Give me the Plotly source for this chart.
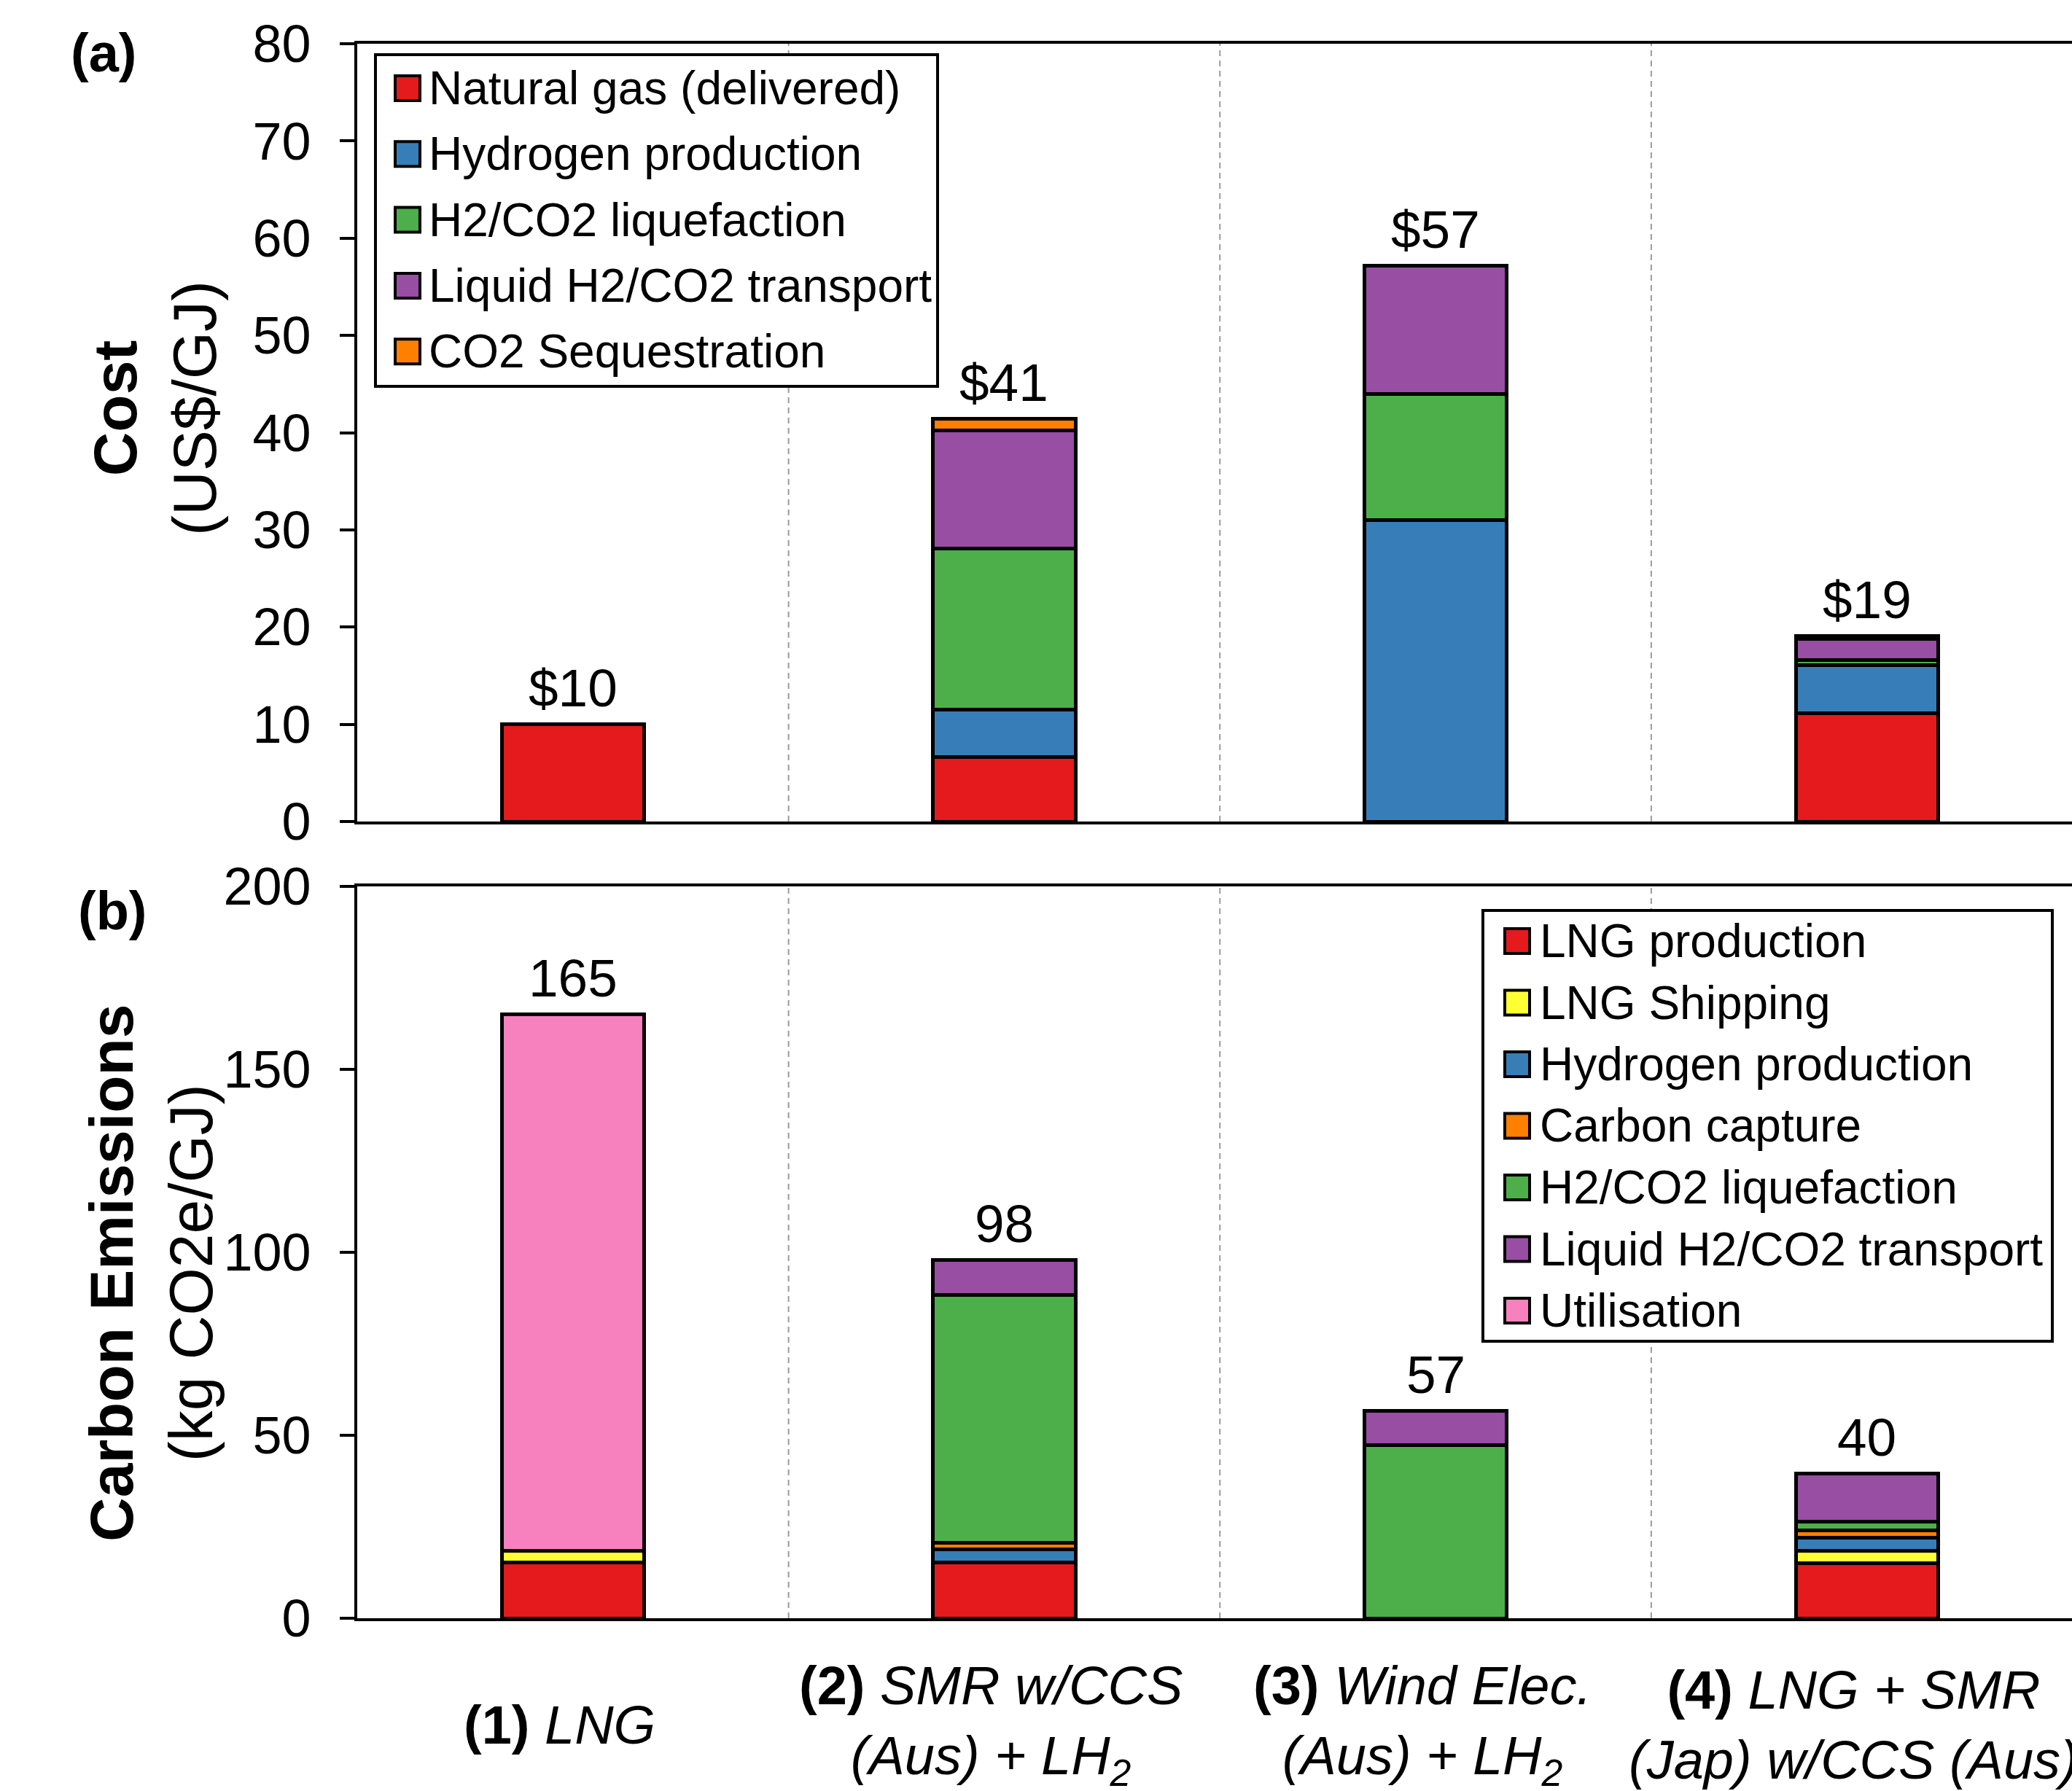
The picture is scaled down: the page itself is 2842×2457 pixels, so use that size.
import plotly.graph_objects as go

W, H = 2842, 2457
FONT = "Liberation Sans, Arial, sans-serif"

# ---------------- data ----------------
categories = ["(1) LNG", "(2) SMR w/CCS (Aus) + LH2",
              "(3) Wind Elec. (Aus) + LH2", "(4) LNG + SMR (Jap) w/CCS (Aus)"]
category_labels = [
    "<b>(1)</b> <i>LNG</i>",
    "<b>(2)</b> <i>SMR w/CCS</i><br><i>(Aus) + LH<sub>2</sub></i>",
    "<b>(3)</b> <i>Wind Elec.</i><br><i>(Aus) + LH<sub>2</sub></i>",
    "<b>(4)</b> <i>LNG + SMR</i><br><i>(Jap) w/CCS (Aus)</i>",
]

# Panel (a): cost, US$/GJ
cost_natural_gas = [10.0, 6.6, None, 11.1]
cost_h2_production = [None, 4.9, 31.0, 5.0]
cost_liquefaction = [None, 16.6, 13.0, 0.5]
cost_transport = [None, 12.1, 13.2, 2.2]
cost_sequestration = [None, 1.2, None, 0.3]
cost_names = ["Natural gas (delivered)", "Hydrogen production",
              "H2/CO2 liquefaction", "Liquid H2/CO2 transport", "CO2 Sequestration"]
cost_colors = ["#E41A1C", "#377EB8", "#4DAF4A", "#984EA3", "#FF7F00"]
cost_ticks = [0, 10, 20, 30, 40, 50, 60, 70, 80]

# Panel (b): carbon emissions, kg CO2e/GJ
em_lng_production = [15.2, 15.2, None, 15.1]
em_lng_shipping = [3.3, None, None, 3.4]
em_h2_production = [None, 3.6, None, 3.6]
em_carbon_capture = [None, 1.9, None, 1.9]
em_liquefaction = [None, 67.7, 47.3, 2.4]
em_transport = [None, 9.6, 9.4, 13.2]
em_utilisation = [146.5, None, None, None]
em_names = ["LNG production", "LNG Shipping", "Hydrogen production", "Carbon capture",
            "H2/CO2 liquefaction", "Liquid H2/CO2 transport", "Utilisation"]
em_colors = ["#E41A1C", "#FFFF33", "#377EB8", "#FF7F00", "#4DAF4A", "#984EA3", "#F781BF"]
em_ticks = [0, 50, 100, 150, 200]

cost_series = [cost_natural_gas, cost_h2_production, cost_liquefaction,
               cost_transport, cost_sequestration]
em_series = [em_lng_production, em_lng_shipping, em_h2_production, em_carbon_capture,
             em_liquefaction, em_transport, em_utilisation]


def totals(series):
    return [sum(v for v in col if v is not None) for col in zip(*series)]


cost_totals = totals(cost_series)
em_totals = totals(em_series)

# ---------------- figure ----------------
fig = go.Figure()
BAR_W = 0.33
for vals, name, col in zip(cost_series, cost_names, cost_colors):
    fig.add_trace(go.Bar(x=categories, y=vals, name=name, width=BAR_W,
                         marker=dict(color=col, line=dict(color="black", width=5)),
                         xaxis="x", yaxis="y", showlegend=False))
for vals, name, col in zip(em_series, em_names, em_colors):
    fig.add_trace(go.Bar(x=categories, y=vals, name=name, width=BAR_W,
                         marker=dict(color=col, line=dict(color="black", width=5)),
                         xaxis="x2", yaxis="y2", showlegend=False))


def fx(px):
    return px / W


def fy(py):
    return 1 - py / H


x_dom = [fx(490), 1.0]
x_range = [-0.5, 3.4755]
ya_dom = [fy(1127), fy(60)]
yb_dom = [fy(2220), fy(1216)]

axis_common = dict(showline=True, linecolor="black", linewidth=4, showgrid=False,
                   zeroline=False, automargin=False)
fig.update_layout(
    width=W, height=H, margin=dict(l=0, r=0, t=0, b=0, pad=0, autoexpand=False),
    paper_bgcolor="white", plot_bgcolor="white", barmode="stack",
    font=dict(family=FONT, color="black"),
    xaxis=dict(domain=x_dom, range=x_range, type="category", anchor="y",
               mirror=True, ticks="", showticklabels=False, **axis_common),
    xaxis2=dict(domain=x_dom, range=x_range, type="category", anchor="y2",
                mirror=True, ticks="", showticklabels=False, **axis_common),
    yaxis=dict(domain=ya_dom, range=[0, 80], anchor="x", tickvals=cost_ticks,
               ticks="outside", ticklen=20, tickwidth=4, tickcolor="black",
               tickfont=dict(size=72, family=FONT), ticklabelstandoff=25,
               **axis_common),
    yaxis2=dict(domain=yb_dom, range=[0, 200], anchor="x2", tickvals=em_ticks,
                ticks="outside", ticklen=20, tickwidth=4, tickcolor="black",
                tickfont=dict(size=72, family=FONT), ticklabelstandoff=25,
                **axis_common),
)

shapes = []
annotations = []

# category separators
for i in range(len(categories) - 1):
    for xr, yr in (("x", "y domain"), ("x2", "y2 domain")):
        shapes.append(dict(type="line", xref=xr, yref=yr, x0=i + 0.5, x1=i + 0.5,
                           y0=0, y1=1, layer="below",
                           line=dict(color="#9a9a9a", width=2, dash="8px,6px")))

# total labels
for cat, t in zip(categories, cost_totals):
    annotations.append(dict(x=cat, y=t, xref="x", yref="y", text=f"${round(t)}",
                            showarrow=False, yanchor="middle", yshift=50,
                            font=dict(size=73, family=FONT)))
for cat, t in zip(categories, em_totals):
    annotations.append(dict(x=cat, y=t, xref="x2", yref="y2", text=f"{round(t)}",
                            showarrow=False, yanchor="middle", yshift=50,
                            font=dict(size=73, family=FONT)))

# category labels
for cat, lab in zip(categories, category_labels):
    annotations.append(dict(x=cat, xref="x2", y=fy(2366), yref="paper", text=lab,
                            showarrow=False, xanchor="center", yanchor="middle",
                            xshift=-18, align="center",
                            font=dict(size=74, family=FONT)))

# axis titles
annotations.append(dict(x=fx(212), y=fy(560), xref="paper", yref="paper",
                        text="<b>Cost</b><br>(US$/GJ)", textangle=-90, showarrow=False,
                        xanchor="center", yanchor="middle", align="center",
                        font=dict(size=84, family=FONT)))
annotations.append(dict(x=fx(207), y=fy(1746), xref="paper", yref="paper",
                        text="<b>Carbon Emissions</b><br>(kg CO2e/GJ)", textangle=-90,
                        showarrow=False, xanchor="center", yanchor="middle",
                        align="center", font=dict(size=84, family=FONT)))

# panel letters
annotations.append(dict(x=fx(142), y=fy(72), xref="paper", yref="paper", text="<b>(a)</b>",
                        showarrow=False, xanchor="center", yanchor="middle",
                        font=dict(size=74, family=FONT)))
annotations.append(dict(x=fx(154), y=fy(1249), xref="paper", yref="paper", text="<b>(b)</b>",
                        showarrow=False, xanchor="center", yanchor="middle",
                        font=dict(size=74, family=FONT)))


# manual legends (large square keys)
def add_legend(names, colors, box, row0, step, key_x, text_x):
    x0, y0, x1, y1 = box
    shapes.append(dict(type="rect", xref="paper", yref="paper", x0=fx(x0), x1=fx(x1),
                       y0=fy(y1), y1=fy(y0), fillcolor="white", layer="above",
                       line=dict(color="black", width=4)))
    for k, (nm, col) in enumerate(zip(names, colors)):
        cy = row0 + k * step
        shapes.append(dict(type="rect", xref="paper", yref="paper",
                           x0=fx(key_x), x1=fx(key_x + 34), y0=fy(cy + 17), y1=fy(cy - 17),
                           fillcolor=col, layer="above", line=dict(color="black", width=4)))
        annotations.append(dict(x=fx(text_x), y=fy(cy), xref="paper", yref="paper", text=nm,
                                showarrow=False, xanchor="left", yanchor="middle",
                                font=dict(size=64, family=FONT)))


add_legend(cost_names, cost_colors, (515, 75, 1286, 530), 121, 90.3, 542, 586)
add_legend(em_names, em_colors, (2034, 1249, 2815, 1840), 1291, 84.5, 2064, 2110)

fig.update_layout(shapes=shapes, annotations=annotations)
fig.write_html("out.html", config={"displayModeBar": False},
               post_script="document.body.style.margin='0px';"
                           "document.body.style.overflow='hidden';")
